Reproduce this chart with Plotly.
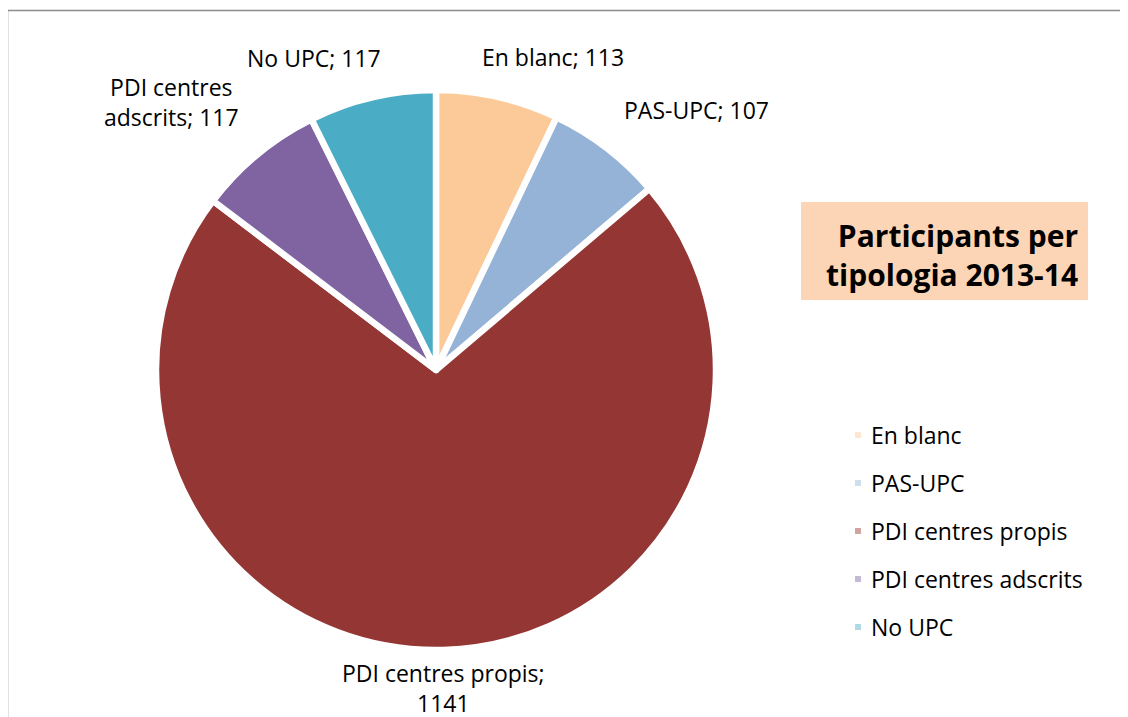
import math
import plotly.graph_objects as go

categories = ["En blanc", "PAS-UPC", "PDI centres propis", "PDI centres adscrits", "No UPC"]
values = [113, 107, 1141, 117, 117]
slice_labels = ["En blanc; 113", "PAS-UPC; 107", "PDI centres propis;<br>1141",
                "PDI centres<br>adscrits; 117", "No UPC; 117"]
colors = ["#FCCA99", "#95B3D7", "#943634", "#8064A2", "#4BACC6"]
title_lines = ["Participants per", "tipologia 2013-14"]

W, H = 1128, 717
OX, OY = 8, 8  # page body margin
FONT = "Open Sans"
cx, cy, R = 436, 370, 280


def px2x(x):
    return (x - OX) / W


def px2y(y):
    return 1 - (y - OY) / H


fig = go.Figure()
fig.add_trace(go.Pie(
    labels=categories, values=values, sort=False, direction="clockwise", rotation=0,
    marker=dict(colors=colors, line=dict(color="white", width=6.5)),
    textinfo="none", hoverinfo="label+value", showlegend=False,
    domain=dict(x=[px2x(cx - R), px2x(cx + R)], y=[px2y(cy + R), px2y(cy - R)]),
))

annotations = []
shapes = []
total = sum(values)
cum = 0
for lab, v in zip(slice_labels, values):
    mid = (cum + v / 2) / total * 2 * math.pi
    cum += v
    s, c = math.sin(mid), -math.cos(mid)
    if c > 0.9:
        r = R * 1.02
        px, py, xa = cx + r * s, cy + r * c, "center"
    elif c < 0 and abs(s) < 0.3:
        r = R * 1.08
        px, py, xa = cx + 1.9 * R * s, cy + r * c, "center"
    else:
        r = R * 1.09
        px, py = cx + r * s, cy + r * c
        xa = "left" if s > 0 else "right"
    ya = "bottom" if c < 0 else "top"
    annotations.append(dict(
        x=px2x(px), y=px2y(py), xref="paper", yref="paper", text=lab, showarrow=False,
        xanchor=xa, yanchor=ya, align="center",
        font=dict(family=FONT, size=23, color="#000000")))

# title box
annotations.append(dict(
    x=px2x(1080), y=px2y(255), xref="paper", yref="paper",
    text="<br>".join("<b>" + t + "</b>" for t in title_lines),
    showarrow=False, xanchor="right", yanchor="middle", align="right",
    font=dict(family=FONT, size=30, color="#000000")))
shapes.append(dict(type="rect", xref="paper", yref="paper", x0=px2x(801), x1=px2x(1088),
                   y0=px2y(300), y1=px2y(202), fillcolor="#FBD5B5", line=dict(width=0), layer="below"))

# custom legend
for i, (cat, col) in enumerate(zip(categories, colors)):
    ly = 435 + 48 * i
    shapes.append(dict(type="rect", xref="paper", yref="paper",
                       x0=px2x(855), x1=px2x(861), y0=px2y(ly + 3), y1=px2y(ly - 3),
                       fillcolor=col, opacity=0.45, line=dict(width=0)))
    annotations.append(dict(x=px2x(869), y=px2y(ly), xref="paper", yref="paper", text=cat,
                            showarrow=False, xanchor="left", yanchor="middle",
                            font=dict(family=FONT, size=23, color="#000000")))

# outer border
shapes.append(dict(type="rect", xref="paper", yref="paper", x0=px2x(7.5), x1=1.05,
                   y0=-0.05, y1=px2y(10.5), line=dict(color="#8C8C8C", width=1.5),
                   fillcolor="rgba(0,0,0,0)"))

fig.update_layout(
    width=W, height=H, margin=dict(l=0, r=0, t=0, b=0),
    paper_bgcolor="white", plot_bgcolor="white",
    annotations=annotations, shapes=shapes, showlegend=False,
)
fig.write_html("out.html")
